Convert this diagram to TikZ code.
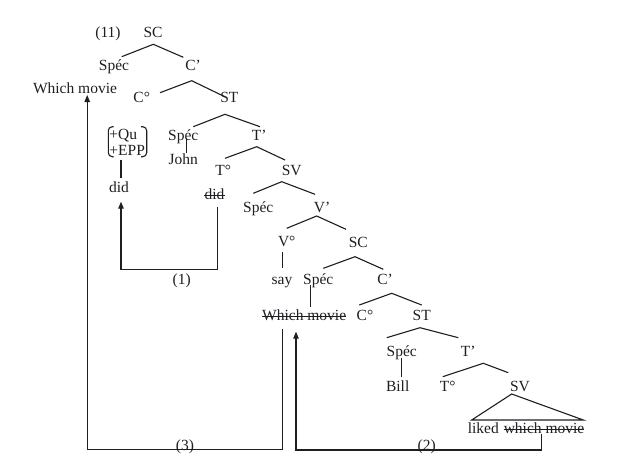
\documentclass[tikz,border=0pt]{standalone}
\usepackage{fontspec}
\setmainfont{Liberation Serif}
\usetikzlibrary{calc,arrows.meta}
\definecolor{ink}{RGB}{30,30,35}
\begin{document}
\begin{tikzpicture}[x=1pt,y=-1pt,
  t/.style={inner sep=0pt, text height=11pt, text depth=3pt, font=\fontsize{15.5}{18}\selectfont, text=ink},
  ln/.style={draw=ink, line width=1.1pt},
  arr/.style={ln, -{Triangle[length=7pt,width=5.5pt]}},
  strike/.style={draw=ink, line width=0.9pt}
  ]
\useasboundingbox (0,0) rectangle (632,461);

% nodes
\node[t] (n11) at (108,33) {(11)};
\node[t] (SC1) at (153,33) {SC};
\node[t] (Spec1) at (114,66) {Spéc};
\node[t] (Cb1) at (193,66) {C’};
\node[t] (WM1) at (75,89.3) {Which movie};
\node[t] (C01) at (141.7,98.3) {C°};
\node[t] (ST1) at (229.3,98.3) {ST};
\node[inner sep=0pt, align=left, font=\fontsize{15.5}{15.5}\selectfont, text=ink] (feat) at (127.2,142.5) {+Qu\\+EPP};
\node[t] (Spec2) at (183.3,136) {Spéc};
\node[t] (John) at (183.3,160.7) {John};
\node[t] (Tb2) at (259.3,136) {T’};
\node[t] (did1) at (119,188) {did};
\node[t] (T02) at (223.3,171) {T°};
\node[t] (SV2) at (291.7,171) {SV};
\node[t] (did2) at (214.5,195) {did};
\node[t] (Spec3) at (258.3,208.3) {Spéc};
\node[t] (Vb3) at (322,208.3) {V’};
\node[t] (V03) at (286.7,242.5) {V°};
\node[t] (SC3) at (358.3,243.3) {SC};
\node[t] (say) at (282,280) {say};
\node[t] (Spec4) at (318.3,280) {Spéc};
\node[t] (Cb4) at (385,280) {C’};
\node[t] (WM2) at (304.2,316) {Which movie};
\node[t] (C05) at (365,316) {C°};
\node[t] (ST5) at (421.7,316) {ST};
\node[t] (Spec6) at (401.7,352.3) {Spéc};
\node[t] (Tb6) at (468.3,352.3) {T’};
\node[t] (Bill) at (397.7,387.3) {Bill};
\node[t] (T07) at (447.7,387.3) {T°};
\node[t] (SV7) at (520,387.3) {SV};
\node[t] (liked) at (483.3,429.3) {liked};
\node[t] (WM3) at (544,429.3) {which movie};
\node[t] (L1) at (181.7,280) {(1)};
\node[t] (L2) at (426.7,446.7) {(2)};
\node[t] (L3) at (185,446.7) {(3)};

% feature brackets
\draw[ln, rounded corners=4pt] ($(feat)+(-13.5,-15.8)$) -- ($(feat)+(-18.9,-15.8)$) -- ($(feat)+(-18.9,14.2)$) -- ($(feat)+(-13.5,14.2)$);
\draw[ln, rounded corners=4pt] ($(feat)+(14,-15.8)$) -- ($(feat)+(19.5,-15.8)$) -- ($(feat)+(19.5,14.2)$) -- ($(feat)+(14,14.2)$);

% strike-throughs
\draw[strike] (did2.west) -- (did2.east);
\draw[strike] (WM2.west) -- (WM2.east);
\draw[strike] (WM3.west) -- (WM3.east);

% tree branches
\draw[ln] ($(Spec1)+(7.7,-9.3)$) -- ($(SC1)+(0.3,11.3)$) -- ($(Cb1)+(-9.7,-8.7)$);
\draw[ln] ($(C01)+(18.3,-5.6)$) -- ($(Cb1)+(-1.3,14.7)$) -- ($(ST1)+(-6,-2.3)$);
\draw[ln] ($(Spec2)+(10,-9.3)$) -- ($(ST1)+(-4.3,16)$) -- ($(Tb2)+(0.7,-9.3)$);
\draw[ln] ($(T02)+(1.7,-12.7)$) -- ($(Tb2)+(-2.6,10.7)$) -- ($(SV2)+(-6.7,-11)$);
\draw[ln] ($(Spec3)+(-5,-15)$) -- ($(SV2)+(-10,10.7)$) -- ($(Vb3)+(-7,-14)$);
\draw[ln] ($(V03)+(0,-14.2)$) -- ($(Vb3)+(-5.3,7.7)$) -- ($(SC3)+(-12.3,-14)$);
\draw[ln] ($(Spec4)+(5,-11.7)$) -- ($(SC3)+(-3.3,13.4)$) -- ($(Cb4)+(-1.7,-10.7)$);
\draw[ln] ($(C05)+(-5.7,-11)$) -- ($(Cb4)+(6.7,13.3)$) -- ($(ST5)+(0,-11)$);
\draw[ln] ($(Spec6)+(-15,-14.6)$) -- ($(ST5)+(-1.7,11.7)$) -- ($(Tb6)+(-10,-14.6)$);
\draw[ln] ($(T07)+(-5,-10.6)$) -- ($(Tb6)+(15,11)$) -- ($(SV7)+(-11.7,-14.6)$);
% triangle
\draw[ln] ($(liked)+(-11.6,-9.3)$) -- ($(SV7)+(-8.3,6.7)$) -- ($(WM3)+(39.3,-9.3)$) -- cycle;

% unary lines
\draw[ln] ($(Spec2)+(3.4,2)$) -- ($(John)+(3.4,-7.7)$);
\draw[ln] ($(feat)+(-6.2,17.5)$) -- ($(did1)+(2,-10)$);
\draw[ln] ($(V03)+(-4,9.2)$) -- ($(say)+(0.7,-11.7)$);
\draw[ln] ($(Spec4)+(-7.6,5)$) -- ($(WM2)+(6.5,-9.3)$);
\draw[ln] ($(Spec6)+(0,5.7)$) -- ($(Bill)+(4,-10.6)$);

% movement arrows
\draw[arr] ($(did2)+(3.2,11.7)$) |- ($(L1)+(0,-10.7)$) -| ($(did1)+(2,13.7)$);
\draw[arr] ($(WM3)+(-2.3,4.7)$) |- ($(L2)+(0,3.3)$) -| ($(WM2)+(-8.2,15.7)$);
\draw[arr] ($(WM2)+(-21.7,13.3)$) |- ($(L3)+(0,2.6)$) -| ($(WM1)+(12.2,5.7)$);
\end{tikzpicture}
\end{document}
